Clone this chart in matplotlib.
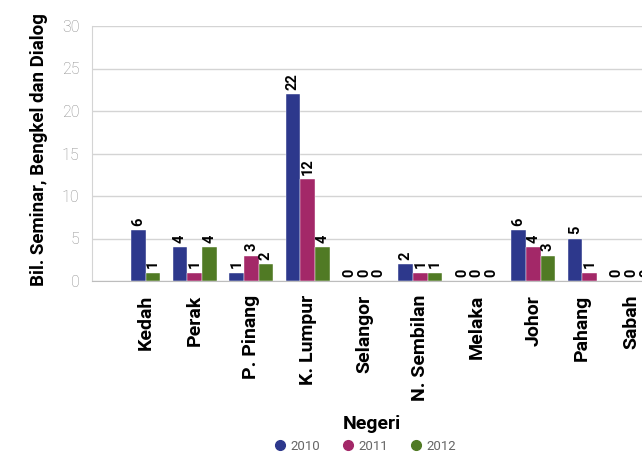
import matplotlib
matplotlib.use("Agg")
import matplotlib.pyplot as plt
from matplotlib.lines import Line2D
import numpy as np

categories = ["Kedah", "Perak", "P. Pinang", "K. Lumpur", "Selangor",
              "N. Sembilan", "Melaka", "Johor", "Pahang", "Sabah"]
series_names = ["2010", "2011", "2012"]
v2010 = [6, 4, 1, 22, 0, 2, 0, 6, 5, 0]
v2011 = [None, 1, 3, 12, 0, 1, 0, 4, 1, 0]
v2012 = [1, 4, 2, 4, 0, 1, 0, 3, None, 0]
colors = ["#2d388c", "#a32868", "#507a24"]
y_ticks = [0, 5, 10, 15, 20, 25, 30]

series = [v2010, v2011, v2012]

plt.rcParams['font.family'] = ['Roboto', 'DejaVu Sans']

W, H = 642, 455
fig = plt.figure(figsize=(W / 100, H / 100), dpi=100)
ax_left, ax_bottom, ax_w, ax_h = 92, 174, 560, 255
ax = fig.add_axes([ax_left / W, ax_bottom / H, ax_w / W, ax_h / H])

bar_w = 1.0
gap = 0.837
cursor = 0.0
centers = []
for j in range(len(categories)):
    present = [k for k in range(len(series)) if series[k][j] is not None]
    for idx, k in enumerate(present):
        x = cursor + idx * bar_w + bar_w / 2
        v = series[k][j]
        ax.bar(x, v, width=bar_w, color=colors[k], zorder=3,
               edgecolor='white', linewidth=0.3)
        ax.annotate(str(v), (x, v), xytext=(0, 3), textcoords='offset points',
                    rotation=90, ha='center', va='bottom', fontsize=10.5,
                    fontweight='bold', color='black', annotation_clip=False)
    centers.append(cursor + len(present) * bar_w / 2)
    cursor += len(present) * bar_w + gap

left = -2.653
ax.set_xlim(left, left + ax_w / 14.7)
ax.set_ylim(0, 30)
ax.set_yticks(y_ticks)
ax.set_yticklabels([str(t) for t in y_ticks], fontsize=11.5, color='#8a8a8a',
                   fontweight='light')
ax.set_xticks(centers)
ax.set_xticklabels(categories, rotation=90, fontsize=14, fontweight='bold',
                   ha='center', va='top')
ax.tick_params(axis='x', length=0, pad=10)
ax.tick_params(axis='y', length=0, pad=9)
ax.grid(axis='y', color='#d4d4d4', linewidth=1, zorder=0)
for s in ['top', 'right']:
    ax.spines[s].set_visible(False)
ax.spines['left'].set_color('#d4d4d4')
ax.spines['bottom'].set_color('#bdbdbd')
ax.spines['bottom'].set_zorder(4)

ax.set_xlabel("Negeri", fontsize=14, fontweight='bold', labelpad=10)
fig.text(39 / W, 1 - 150 / H, "Bil. Seminar, Bengkel dan Dialog", rotation=90,
         ha='center', va='center', fontsize=13.5, fontweight='bold')

handles = [Line2D([], [], marker='o', linestyle='none', markersize=7,
                  markerfacecolor=c, markeredgecolor=c) for c in colors]
leg = fig.legend(handles, series_names, loc='center', ncol=3,
                 bbox_to_anchor=(365 / W, 1 - 446 / H), frameon=False,
                 handletextpad=0.3, columnspacing=1.6, fontsize=9.5,
                 handlelength=1.0)
for t in leg.get_texts():
    t.set_color('#666666')

fig.savefig("out.png", dpi=100)
